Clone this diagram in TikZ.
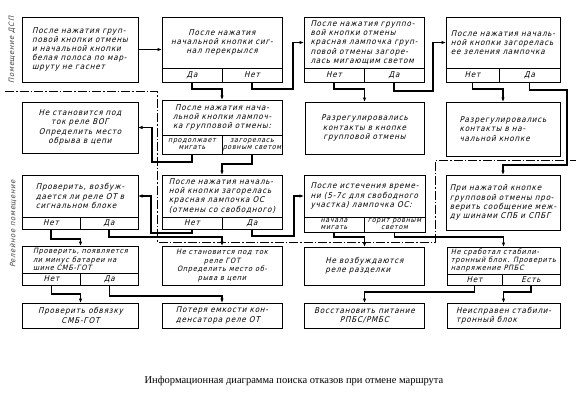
\documentclass[tikz,border=0pt]{standalone}
\usepackage{fontspec}
\setmainfont{Liberation Serif}
\newfontfamily\gost[FakeSlant=0.25,LetterSpace=10]{DejaVu Sans Condensed}
\usetikzlibrary{arrows, arrows.meta}
\usetikzlibrary{calc}

\begin{document}
\begin{tikzpicture}[x=1pt, y=-1pt,
    box/.style={draw, line width=0.8pt, inner sep=0pt, outer sep=0pt, align=center, font=\gost\fontsize{8}{9.2}\selectfont},
    tight/.style={font=\gost\fontsize{7.3}{8.4}\selectfont},
    cell/.style={box, minimum height=#1},
    cell/.default=14pt,
    small/.style={font=\gost\fontsize{7}{6.9}\selectfont},
    flow/.style={line width=1.4pt, -{Latex[length=4.5pt,width=3.5pt]}},
    room/.style={line width=0.6pt, dash pattern=on 9pt off 2pt on 1.5pt off 2pt},
    side/.style={rotate=90, font=\gost\fontsize{7.4}{8}\selectfont, text=black!75}]
      \useasboundingbox (0,0) rectangle (578,410);

      \node[box, align=left, minimum width=116pt, minimum height=65pt] (11) at (80,49.5) {После нажатия груп-\\повой кнопки отмены\\и начальной кнопки\\белая полоса по мар-\\шруту не гаснет};
      \node[box, minimum width=120pt, minimum height=51pt] (12) at (222,42.5) {После нажатия\\начальной кнопки сиг-\\нал перекрылся};
      \node[cell, anchor=north west, minimum width=60pt] (12a) at (12.south west) {Да};
      \node[cell, anchor=north east, minimum width=60pt] (12b) at (12.south east) {Нет};
      \node[box, align=left, minimum width=120pt, minimum height=51pt] (13) at (364,42.5) {После нажатия группо-\\вой кнопки отмены\\красная лампочка груп-\\повой отмены загоре-\\лась мигающим светом};
      \node[cell, anchor=north west, minimum width=60pt] (13a) at (13.south west) {Нет};
      \node[cell, anchor=north east, minimum width=60pt] (13b) at (13.south east) {Да};
      \node[box, align=left, minimum width=114pt, minimum height=51pt] (14) at (503,42.5) {После нажатия началь-\\ной кнопки загорелась\\ее зеления лампочка};
      \node[cell, anchor=north west, minimum width=53pt] (14a) at (14.south west) {Нет};
      \node[cell, anchor=north east, minimum width=61pt] (14b) at (14.south east) {Да};

      \node[box, minimum width=116pt, minimum height=51pt] (21) at (80,127.5) {Не становится под\\ток реле ВОГ\\Определить место\\обрыва в цепи};
      \node[box, minimum width=120pt, minimum height=35pt] (22) at (222,117.5) {После нажатия нача-\\льной кнопки лампоч-\\ка групповой отмены:};
      \node[cell=19pt, small, anchor=north west, minimum width=60pt] (22a) at (22.south west) {продолжает\\мигать};
      \node[cell=19pt, small, anchor=north east, minimum width=60pt] (22b) at (22.south east) {загорелась\\ровным светом};
      \node[box, minimum width=119pt, minimum height=52pt] (23) at (364.5,128) {Разрегулировались\\контакты в кнопке\\групповой отмены};
      \node[box, align=left, minimum width=114pt, minimum height=54pt] (24) at (503,129) {Разрегулировались\\контакты в на-\\чальной кнопке};

      \node[box, align=left, minimum width=116pt, minimum height=42pt] (31) at (80,196) {Проверить, возбуж-\\дается ли реле ОТ в\\сигнальном блоке};
      \node[cell=12pt, anchor=north west, minimum width=58pt] (31a) at (31.south west) {Нет};
      \node[cell=12pt, anchor=north east, minimum width=58pt] (31b) at (31.south east) {Да};
      \node[box, align=left, minimum width=120pt, minimum height=42pt] (32) at (222,196) {После нажатия началь-\\ной кнопки загорелась\\красная лампочка ОС\\(отмены со свободного)};
      \node[cell=12pt, anchor=north west, minimum width=60pt] (32a) at (32.south west) {Нет};
      \node[cell=12pt, anchor=north east, minimum width=60pt] (32b) at (32.south east) {Да};
      \node[box, align=left, minimum width=121pt, minimum height=42pt] (33) at (364.5,196) {После истечения време-\\ни (5-7с для свободного\\участка) лампочка ОС:};
      \node[cell=15pt, small, anchor=north west, minimum width=60pt] (33a) at (33.south west) {начала\\мигать};
      \node[cell=15pt, small, anchor=north east, minimum width=61pt] (33b) at (33.south east) {горит ровным\\светом};
      \node[box, align=left, minimum width=114pt, minimum height=55pt] (34) at (503,202.5) {При нажатой кнопке\\групповой отмены про-\\верить сообщение меж-\\ду шинами СПБ и СПБГ};

      \node[box, tight, align=left, minimum width=116pt, minimum height=27pt] (41) at (80.5,259.5) {Проверить, появляется\\ли минус батареи на\\шине СМБ-ГОТ};
      \node[cell=12pt, anchor=north west, minimum width=58pt] (41a) at (41.south west) {Нет};
      \node[cell=12pt, anchor=north east, minimum width=58pt] (41b) at (41.south east) {Да};
      \node[box, tight, minimum width=120pt, minimum height=39pt] (42) at (222,265.5) {Не становится под ток\\реле ГОТ\\Определить место об-\\рыва в цепи};
      \node[box, align=left, minimum width=120pt, minimum height=38pt] (43) at (364.5,266) {Не возбуждаются\\реле разделки};
      \node[box, tight, align=left, minimum width=113pt, minimum height=27pt] (44) at (503.5,260.5) {Не сработал стабили-\\тронный блок. Проверить\\напряжение РПБС};
      \node[cell=11pt, anchor=north west, minimum width=55pt] (44a) at (44.south west) {Нет};
      \node[cell=11pt, anchor=north east, minimum width=58pt] (44b) at (44.south east) {Есть};

      \node[box, minimum width=116pt, minimum height=25pt] (51) at (80.5,315.5) {Проверить обвязку\\СМБ-ГОТ};
      \node[box, align=left, minimum width=120pt, minimum height=25pt] (52) at (222,315.5) {Потеря емкости кон-\\денсатора реле ОТ};
      \node[box, minimum width=120pt, minimum height=25pt] (53) at (364.5,315.5) {Восстановить питание\\РПБС/РМБС};
      \node[box, align=left, minimum width=113pt, minimum height=25pt] (54) at (503.5,315.5) {Неисправен стабили-\\тронный блок};

      \draw[flow] (11.east) -- (11.east -| 12.west);
      \draw[flow] (12a.south) -- ++(0,7) -| (22.north);
      \draw[flow] (12b.south) -- ++(0,7) -| ([xshift=-11pt]13.west) -- (13.west);
      \draw[flow] (13a.south) -- ++(0,7) -| (23.north);
      \draw[flow] (13b.south) -- ++(0,9) -| ([xshift=-13pt]14.west) -- (14.west);
      \draw[flow] (14a.south) -- ++(0,7) -| (24.north);
      \draw[flow] (14b.south) -- ++(0,8) -| ([shift={(7pt,-9pt)}]24.south east) -| (34.north);
      \draw[flow] (22a.south) -- ++(0,8) -| ([xshift=14pt]21.east) -- (21.east);
      \draw[flow] (22b.south) -- ++(0,10) -| (32.north);
      \draw[flow] (32a.south) -- ++(0,4) -| ([xshift=13pt]31.east) -- (31.east);
      \draw[flow] (32b.south) -- ++(0,7) -| ([xshift=-10pt]33.west) -- (33.west);
      \draw[flow] (31a.south) -- ++(0,10) -| (41.north);
      \draw[flow] (31b.south) -- ++(0,8) -| (42.north);
      \draw[flow] (33a.south) -- ++(0,5) -| (43.north);
      \draw[flow] (33b.south) -- ++(0,5) -| (44.north);
      \draw[flow] (41a.south) -- ++(0,9) -| (51.north);
      \draw[flow] (41b.south) -- ++(0,11) -| (52.north);
      \draw[flow] (44a.south) -- ++(0,7) -| (53.north);
      \draw[flow] (44b.south) -- ++(0,7) -| (54.north);

      \draw[room] (5,91) -- (157,91) -- (157,242) -- (435,242) -- (435,160) -- (576,160);
      \node[side] (dsp) at (12,50) {Помещение ДСП};
      \node[side] (relay) at (13,224) {Релейное помещение};

      \node[font=\fontsize{10.5}{12}\selectfont] (title) at (294,381) {Информационная диаграмма поиска отказов при отмене маршрута};
    \end{tikzpicture}
\end{document}
